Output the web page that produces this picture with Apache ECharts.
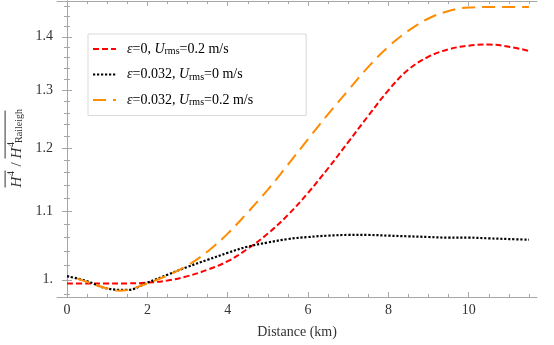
<!DOCTYPE html>
<html>
<head>
<meta charset="utf-8">
<script src="https://cdn.jsdelivr.net/npm/echarts@6/dist/echarts.min.js"></script>
<style>html,body{margin:0;padding:0;background:#fff}#c{width:554px;height:345px}</style>
</head>
<body>
<div id="c"></div>
<script>
// ---- data ----
const distance = [0,0.5,1,1.5,2,2.5,3,3.5,4,4.5,5,5.5,6,6.5,7,7.5,8,8.5,9,9.5,10,10.5,11,11.5];
const redValues = [0.995,0.995,0.995,0.995,0.996,0.999,1.005,1.014,1.026,1.044,1.066,1.094,1.128,1.167,1.21,1.255,1.30,1.338,1.362,1.376,1.383,1.385,1.381,1.373];
const blackValues = [1.005,0.998,0.988,0.986,0.996,1.007,1.018,1.028,1.038,1.047,1.053,1.058,1.061,1.063,1.064,1.064,1.063,1.062,1.061,1.060,1.060,1.059,1.058,1.057];
const orangeDistance = [0.25,0.5,1,1.3,1.5,2,2.5,3,3.5,4,4.5,5,5.5,6,6.5,7,7.5,8,8.5,9,9.5,10,10.5,11,11.5];
const orangeValues = [1.002,0.997,0.988,0.985,0.986,0.995,1.006,1.020,1.040,1.066,1.098,1.133,1.173,1.215,1.258,1.30,1.343,1.381,1.412,1.436,1.451,1.458,1.459,1.459,1.459];
const xMajorTicks = [0,2,4,6,8,10];
const xMinorTicks = [0.5,1,1.5,2.5,3,3.5,4.5,5,5.5,6.5,7,7.5,8.5,9,9.5,10.5,11,11.5];
const yMajorTicks = [1,1.1,1.2,1.3,1.4];
const yMinorTicks = [0.98,1.02,1.04,1.06,1.08,1.12,1.14,1.16,1.18,1.22,1.24,1.26,1.28,1.32,1.34,1.36,1.38,1.42,1.44,1.46];
const seriesNames = ['red','black','orange'];

const pairs = (xs, ys) => xs.map((x, i) => [x, ys[i]]);
const FONT = '"Liberation Serif", "DejaVu Serif", serif';
const FRAME = '#a6a6a6';
const TXT = '#333';
const XMIN = -0.25, XMAX = 11.7, YMIN = 0.9764, YMAX = 1.4712;

function xAx(pos, ticks, len, labels, showLine) {
  return {
    type: 'value', position: pos, min: XMIN, max: XMAX,
    axisLine: { show: showLine, lineStyle: { color: FRAME, width: 1 } },
    axisTick: { show: true, inside: true, length: len, customValues: ticks, lineStyle: { color: FRAME } },
    axisLabel: labels ? { show: true, customValues: xMajorTicks, margin: 6, color: TXT, fontFamily: FONT, fontSize: 14 } : { show: false },
    splitLine: { show: false }
  };
}
function yAx(pos, ticks, len, labels, showLine) {
  return {
    type: 'log', logBase: 10, position: pos, min: YMIN, max: YMAX,
    axisLine: { show: showLine, lineStyle: { color: FRAME, width: 1 } },
    axisTick: { show: true, inside: true, length: len, customValues: ticks, lineStyle: { color: FRAME } },
    axisLabel: labels ? { show: true, customValues: yMajorTicks, margin: 4, color: TXT, fontFamily: FONT, fontSize: 14,
      formatter: v => (Math.abs(v - 1) < 1e-9 ? '1.' : (+v).toFixed(1)) } : { show: false },
    splitLine: { show: false }
  };
}

const xAxes = [
  Object.assign(xAx('bottom', xMajorTicks, 5, true, true), {
    name: 'Distance (km)', nameLocation: 'middle', nameGap: 28,
    nameTextStyle: { fontFamily: FONT, fontSize: 14, color: TXT }
  }),
  xAx('bottom', xMinorTicks, 3, false, false),
  xAx('top', xMajorTicks, 5, false, true),
  xAx('top', xMinorTicks, 3, false, false)
];
const yAxes = [
  Object.assign(yAx('left', yMajorTicks, 5, true, true), {
    name: '{bar1| }{gap| }{bar2| }\n{it|H}{sup|4}{n|/}{it|H}{sup|4}{sub|Raileigh}',
    nameLocation: 'middle', nameGap: 27, nameRotate: 90,
    nameTextStyle: { fontFamily: FONT, fontSize: 14, color: TXT, align: 'center',
      rich: {
        bar1: { width: 17, height: 1, lineHeight: 3, backgroundColor: TXT, fontSize: 1 },
        gap: { width: 12, height: 1, lineHeight: 3, fontSize: 1 },
        bar2: { width: 48, height: 1, lineHeight: 3, backgroundColor: TXT, fontSize: 1 },
        it: { width: 11, fontFamily: FONT, fontSize: 15, fontStyle: 'italic', color: TXT, lineHeight: 18, verticalAlign: 'bottom' },
        sup: { width: 6, fontFamily: FONT, fontSize: 10, color: TXT, lineHeight: 18, verticalAlign: 'top' },
        n: { width: 12, align: 'center', fontFamily: FONT, fontSize: 15, color: TXT, lineHeight: 18, verticalAlign: 'bottom' },
        sub: { width: 31, fontFamily: FONT, fontSize: 10, color: TXT, lineHeight: 18, verticalAlign: 'bottom', padding: [6, 0, 0, 0] }
      } }
  }),
  yAx('left', yMinorTicks, 3, false, false),
  yAx('right', yMajorTicks, 5, false, true),
  yAx('right', yMinorTicks, 3, false, false)
];

const chart = echarts.init(document.getElementById('c'), null, { renderer: 'canvas' });
const legendRich = {
  i: { fontFamily: FONT, fontSize: 14, fontStyle: 'italic', color: '#000' },
  t: { fontFamily: FONT, fontSize: 14, color: '#000' },
  sub: { fontFamily: FONT, fontSize: 10, color: '#000', verticalAlign: 'bottom', padding: [5, 0, 0, 0] }
};
const legendLabels = {
  red: '{i|ε}{t|=0, }{i|U}{sub|rms}{t|=0.2 m/s}',
  black: '{i|ε}{t|=0.032, }{i|U}{sub|rms}{t|=0 m/s}',
  orange: '{i|ε}{t|=0.032, }{i|U}{sub|rms}{t|=0.2 m/s}'
};

chart.setOption({
  animation: false,
  backgroundColor: '#fff',
  grid: { left: 57, right: 17, top: 1, bottom: 48, containLabel: false, outerBoundsMode: 'none' },
  xAxis: xAxes,
  yAxis: yAxes,
  legend: {
    orient: 'vertical', left: 88, top: 34,
    itemWidth: 23, itemHeight: 14, itemGap: 11,
    padding: [8, 53, 8, 4],
    backgroundColor: '#fff', borderColor: '#d9d9d9', borderWidth: 1,
    itemStyle: { opacity: 0 },
    formatter: n => legendLabels[n],
    textStyle: { fontFamily: FONT, fontSize: 14, color: '#000', padding: [0, 0, 0, 6], rich: legendRich },
    data: seriesNames
  },
  series: [
    { name: 'red', type: 'line', data: pairs(distance, redValues), smooth: 0.4, showSymbol: false, symbol: 'none',
      lineStyle: { color: '#ff0000', width: 2, type: [6, 3] }, itemStyle: { color: '#ff0000' } },
    { name: 'black', type: 'line', data: pairs(distance, blackValues), smooth: 0.4, showSymbol: false, symbol: 'none',
      lineStyle: { color: '#000', width: 2.2, type: [2.2, 1.8] }, itemStyle: { color: '#000' } },
    { name: 'orange', type: 'line', data: pairs(orangeDistance, orangeValues), smooth: 0.4, showSymbol: false, symbol: 'none',
      lineStyle: { color: '#ff8c00', width: 2, type: [13, 7] }, itemStyle: { color: '#ff8c00' } }
  ]
});
</script>
</body>
</html>
